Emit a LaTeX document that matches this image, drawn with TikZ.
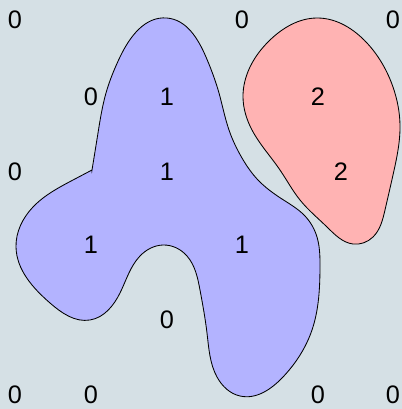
\documentclass[tikz,border=0pt]{standalone}
\usepackage{fontspec}
\setmainfont{Liberation Sans}
\usetikzlibrary{hobby}
\definecolor{bgcol}{RGB}{213,224,229}
\definecolor{bluecol}{RGB}{179,179,255}
\definecolor{redcol}{RGB}{255,179,179}
\begin{document}
\begin{tikzpicture}[
	x=0.025cm, y=-0.025cm,
	use Hobby shortcut,
	region/.style={
		draw=black,
		line width=0.6pt
	},
	label/.style={
		inner sep=0pt,
		font=\fontsize{18}{20}\selectfont
	}
	]
	% background
	\fill[bgcol] (0,0) rectangle (402,409);
	\useasboundingbox (0,0) rectangle (402,409);

	% blue region
	\draw[region, fill=bluecol] (92,170) .. (98,133) .. (106,93) .. (120,57)
		.. (167,18) .. (206,57) .. (219,93) .. (229,130) .. (242,158)
		.. (258,180) .. (282,199) .. (305,216) .. (317,237) .. (320,267)
		.. (312,330) .. (283,377) .. (240,396) .. (217,377) .. (207,333)
		.. (200,290) .. (187,256) .. (163,245) .. (140,256) .. (120,293)
		.. (90,320) .. (50,303) .. (16,247) .. (33,207) .. (73,180)
		.. (92,170) -- cycle;

	% red region
	\draw[region, fill=redcol] ([closed]317,18) .. (367,43) .. (393,87)
		.. (400,125) .. (393,175) .. (385,210) .. (373,237) .. (353,244)
		.. (327,227) .. (300,200) .. (280,170) .. (252,130) .. (243,97)
		.. (250,67) .. (270,40) .. (317,18);

	% labels
	\node[label] (a0) at (15,20) {0};
	\node[label] (a3) at (242,20) {0};
	\node[label] (a5) at (393,20) {0};
	\node[label] (b1) at (91,97) {0};
	\node[label] (b2) at (167,97) {1};
	\node[label] (b4) at (318,97) {2};
	\node[label] (c0) at (15,172) {0};
	\node[label] (c2) at (167,172) {1};
	\node[label] (c4) at (341,172) {2};
	\node[label] (d1) at (91,245) {1};
	\node[label] (d3) at (242,245) {1};
	\node[label] (e2) at (167,320) {0};
	\node[label] (f0) at (15,395) {0};
	\node[label] (f1) at (91,395) {0};
	\node[label] (f4) at (318,395) {0};
	\node[label] (f5) at (393,395) {0};
\end{tikzpicture}
\end{document}
